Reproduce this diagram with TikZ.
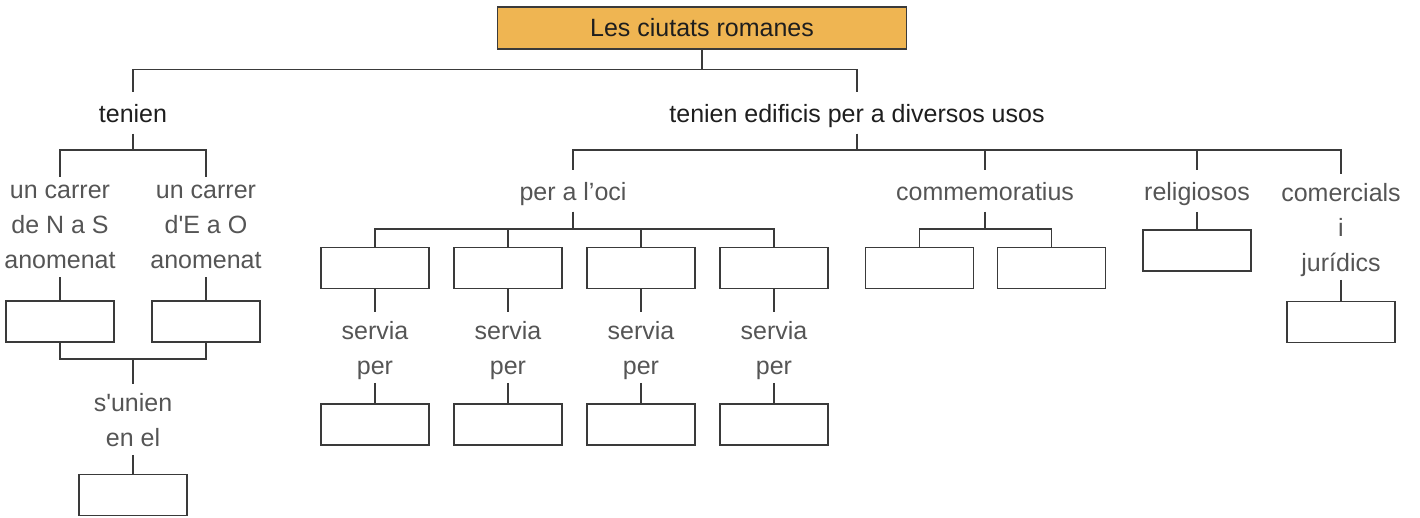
\documentclass[tikz,border=0pt]{standalone}
\usepackage{fontspec}
\setmainfont{Liberation Sans}
\definecolor{titlefill}{HTML}{EFB552}
\definecolor{linecol}{HTML}{3A3A3A}
\definecolor{lighttext}{HTML}{555555}
\definecolor{darktext}{HTML}{1E1E1E}
\tikzset{
  lbl/.style={align=center, inner sep=0pt, outer sep=3.5pt, text=lighttext,
    font=\fontsize{25}{35}\selectfont,
    execute at begin node=\rule{0pt}{27.5pt},
    execute at end node=\rule[-7.5pt]{0pt}{7.5pt}},
  mlbl/.style={align=center, inner sep=0pt, outer sep=3.5pt, text=lighttext,
    font=\fontsize{25}{35}\selectfont,
    execute at begin node=\strut, execute at end node=\strut},
  head/.style={lbl, text=darktext},
  blank/.style={draw=linecol, line width=1.3pt, minimum width=108pt,
    minimum height=41pt, inner sep=0pt, outer sep=0pt},
  titlebox/.style={draw=linecol, line width=1.3pt, fill=titlefill,
    minimum width=409pt, minimum height=42pt, inner sep=0pt,
    text=darktext, font=\fontsize{25}{30}\selectfont},
  conn/.style={draw=linecol, line width=1.3pt},
}
\def\dy{5.5pt}
\begin{document}
\begin{tikzpicture}[x=1pt,y=-1pt]
\useasboundingbox (0,0) rectangle (1420,518);
% title
\node[titlebox] (title) at (702,28) {Les ciutats romanes};
% level 1
\node[head] (tenien) at (133,113) {tenien};
\node[head] (edif) at (857,113) {tenien edificis per a diversos usos};
\draw[conn] (title.south) -- ++(0,20) -| (tenien.north);
\draw[conn] (title.south) -- ++(0,20) -| (edif.north);
% left branch
\node[mlbl] (ns) at (60,232.5) {un carrer\\de N a S\\anomenat};
\node[mlbl] (eo) at (206,232.5) {un carrer\\d\textquotesingle E a O\\anomenat};
\draw[conn] (tenien.south) -- ++(0,16) -| ([yshift=\dy]ns.north);
\draw[conn] (tenien.south) -- ++(0,16) -| ([yshift=\dy]eo.north);
\node[blank] (bns) at (60,321.5) {};
\node[blank] (beo) at (206,321.5) {};
\draw[conn] ([yshift=\dy]ns.south) -- (bns.north);
\draw[conn] ([yshift=\dy]eo.south) -- (beo.north);
\node[mlbl] (unien) at (133,425) {s\textquotesingle unien\\en el};
\draw[conn] (bns.south) -- ++(0,17) -| ([yshift=\dy]unien.north);
\draw[conn] (beo.south) -- ++(0,17) -| ([yshift=\dy]unien.north);
\node[blank] (bunien) at (133,495) {};
\draw[conn] ([yshift=\dy]unien.south) -- (bunien.north);
% right branch
\node[lbl] (oci) at (573,191) {per a l'oci};
\node[lbl] (comm) at (985,191) {commemoratius};
\node[lbl] (rel) at (1197,191) {religiosos};
\node[mlbl] (com) at (1341,232.5) {comercials\\i\\jurídics};
\foreach \c in {oci,comm,rel}
  \draw[conn] (edif.south) -- ++(0,16) -| (\c.north);
\draw[conn] (edif.south) -- ++(0,16) -| ([yshift=\dy]com.north);
% oci children
\foreach \i/\x in {1/375,2/508,3/641,4/774}{
  \node[blank] (o\i) at (\x,268) {};
  \node[mlbl] (s\i) at (\x,353) {servia\\per};
  \node[blank] (ob\i) at (\x,424.5) {};
  \draw[conn] (oci.south) -- ++(0,17) -| (o\i.north);
  \draw[conn] (o\i.south) -- ([yshift=\dy]s\i.north);
  \draw[conn] ([yshift=\dy]s\i.south) -- (ob\i.north);
}
% commemoratius children
\node[blank] (c1) at (919.5,268) {};
\node[blank] (c2) at (1051.5,268) {};
\draw[conn] (comm.south) -- ++(0,17) -| (c1.north);
\draw[conn] (comm.south) -- ++(0,17) -| (c2.north);
% religiosos child
\node[blank] (r1) at (1197,250.5) {};
\draw[conn] (rel.south) -- (r1.north);
% comercials child
\node[blank] (m1) at (1341,322) {};
\draw[conn] ([yshift=\dy]com.south) -- (m1.north);
\end{tikzpicture}
\end{document}
